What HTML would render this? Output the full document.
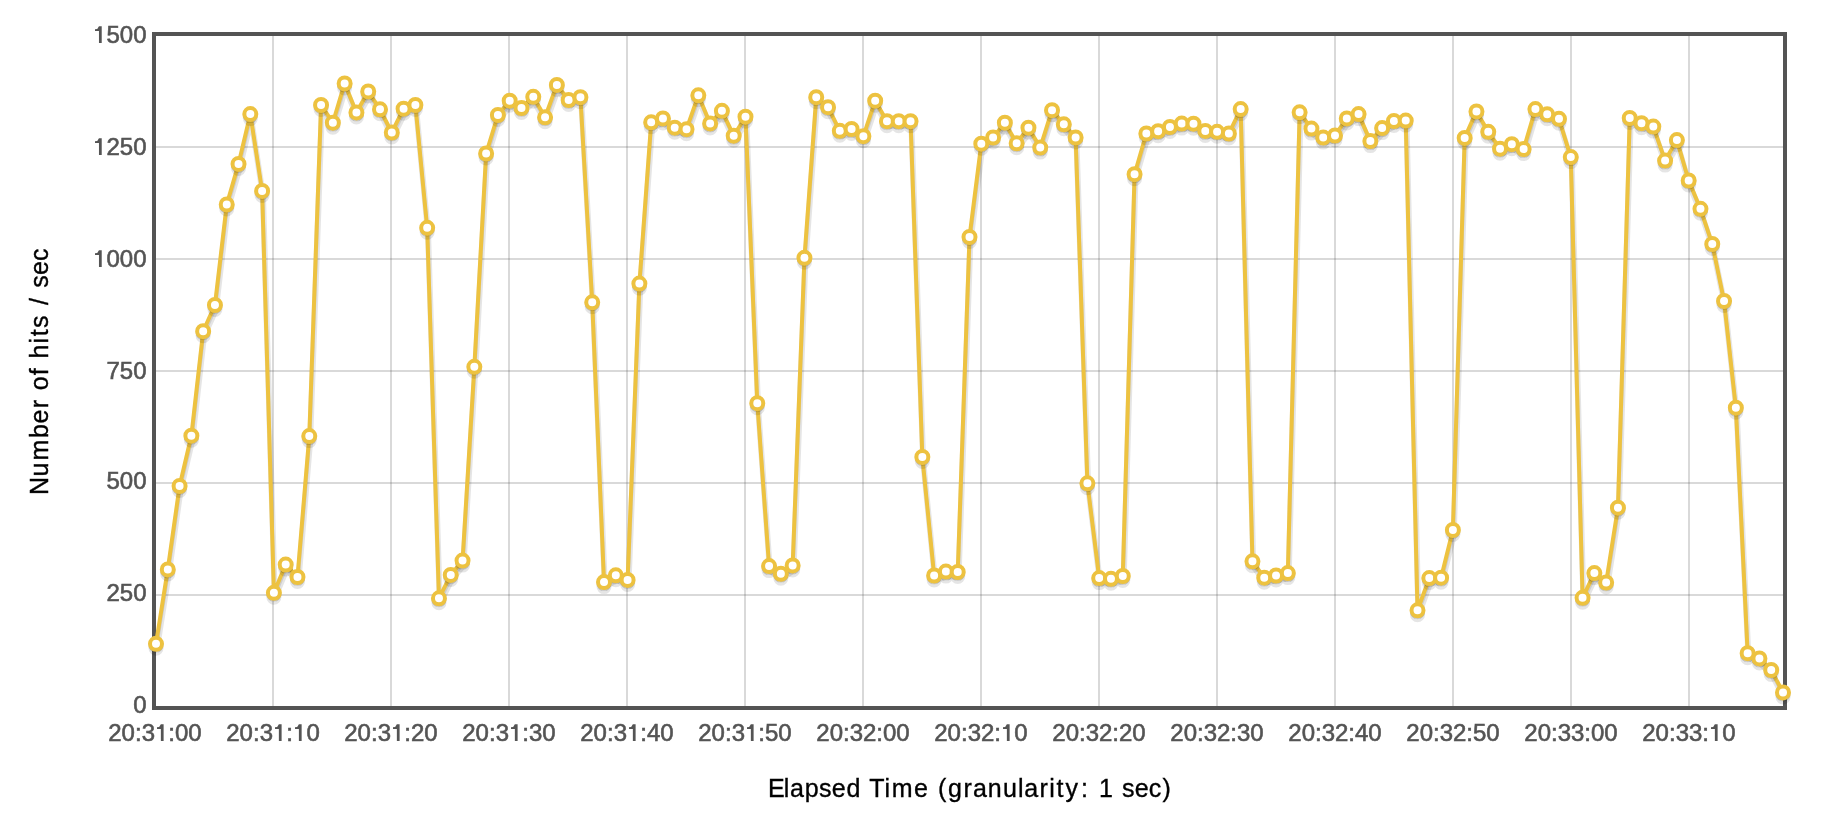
<!DOCTYPE html>
<html><head><meta charset="utf-8"><style>
html,body{margin:0;padding:0;background:#fff;width:1822px;height:832px;overflow:hidden;position:relative}
.xl{will-change:transform;position:absolute;top:719px;width:120px;text-align:center;font:24px/28px "Liberation Sans",sans-serif;color:#545454;-webkit-text-stroke:0.6px #545454}
.yl{will-change:transform;position:absolute;left:40px;width:106.5px;text-align:right;font:24px/28px "Liberation Sans",sans-serif;color:#545454;-webkit-text-stroke:0.6px #545454}
.one{position:relative;color:transparent;-webkit-text-stroke-color:transparent}
.one::after{content:"";position:absolute;left:0.07em;bottom:0.2119em;width:0.296em;height:0.698em;background:#545454;clip-path:polygon(0.175em 0,0.29em 0,0.29em 0.698em,0.175em 0.698em,0.175em 0.204em,0 0.204em,0 0.126em,0.104em 0.119em)}
.ax{will-change:transform;position:absolute;font-family:"Liberation Sans",sans-serif;color:#000;-webkit-text-stroke:0.35px #000;white-space:nowrap}
</style></head><body>
<svg width="1822" height="832" viewBox="0 0 1822 832" style="position:absolute;left:0;top:0"><path d="M273,36 V706 M391,36 V706 M509,36 V706 M627,36 V706 M745,36 V706 M863,36 V706 M981,36 V706 M1099,36 V706 M1217,36 V706 M1335,36 V706 M1453,36 V706 M1571,36 V706 M1689,36 V706" stroke="rgba(84,84,84,0.22)" stroke-width="2" fill="none"/><path d="M156,595 H1783 M156,483 H1783 M156,371 H1783 M156,259 H1783 M156,147 H1783" stroke="rgba(84,84,84,0.22)" stroke-width="2" fill="none"/><rect x="154" y="34" width="1631" height="674" stroke="#545454" stroke-width="4" fill="none"/><path d="M156.87,648.72 L168.66,574.32 L180.45,490.92 L192.24,440.62 L204.03,336.12 L215.82,309.92 L227.61,209.42 L239.40,168.82 L251.19,119.02 L262.98,195.82 L274.77,597.72 L286.56,569.52 L298.35,581.92 L310.14,441.02 L321.93,109.92 L333.72,127.62 L345.51,88.32 L357.30,117.32 L369.09,96.32 L380.88,114.22 L392.67,137.42 L404.46,113.62 L416.25,109.92 L428.03,232.72 L439.82,603.22 L451.61,579.82 L463.40,565.52 L475.19,371.72 L486.98,158.42 L498.77,119.92 L510.56,105.62 L522.35,112.92 L534.14,101.72 L545.93,122.22 L557.72,89.82 L569.51,104.92 L581.30,102.12 L593.09,307.22 L604.88,587.02 L616.67,580.22 L628.46,584.82 L640.25,288.52 L652.04,127.22 L663.83,123.32 L675.62,132.62 L687.41,134.12 L699.20,100.22 L710.99,128.32 L722.78,115.72 L734.57,140.62 L746.36,121.62 L758.15,408.12 L769.94,571.02 L781.73,578.72 L793.52,570.32 L805.31,262.72 L817.10,102.12 L828.89,112.12 L840.68,135.72 L852.47,133.92 L864.26,141.12 L876.05,105.62 L887.84,126.12 L899.63,126.12 L911.42,126.12 L923.21,461.92 L935.00,580.42 L946.79,576.52 L958.58,576.92 L970.37,241.92 L982.16,148.62 L993.95,142.42 L1005.74,127.62 L1017.53,148.22 L1029.32,132.62 L1041.11,152.52 L1052.90,115.12 L1064.69,129.22 L1076.48,142.42 L1088.27,488.22 L1100.06,583.02 L1111.85,583.72 L1123.64,580.92 L1135.43,179.12 L1147.22,138.42 L1159.01,136.12 L1170.80,131.92 L1182.59,128.52 L1194.38,128.62 L1206.17,135.82 L1217.96,136.72 L1229.75,138.42 L1241.53,114.02 L1253.32,566.22 L1265.11,582.62 L1276.90,580.42 L1288.69,578.02 L1300.48,117.22 L1312.27,133.52 L1324.06,142.52 L1335.85,140.42 L1347.64,123.32 L1359.43,119.02 L1371.22,146.02 L1383.01,133.02 L1394.80,125.92 L1406.59,125.52 L1418.38,615.22 L1430.17,583.02 L1441.96,582.62 L1453.75,534.92 L1465.54,142.82 L1477.33,116.32 L1489.12,136.72 L1500.91,153.62 L1512.70,149.12 L1524.49,154.02 L1536.28,114.02 L1548.07,119.22 L1559.86,123.72 L1571.65,162.02 L1583.44,602.72 L1595.23,578.02 L1607.02,587.42 L1618.81,512.62 L1630.60,122.92 L1642.39,128.12 L1654.18,131.52 L1665.97,165.52 L1677.76,145.02 L1689.55,185.42 L1701.34,213.72 L1713.13,248.92 L1724.92,305.92 L1736.71,412.62 L1748.50,658.12 L1760.29,663.32 L1772.08,674.92 L1783.87,697.32" stroke="rgba(0,0,0,0.1)" stroke-width="6" fill="none" stroke-linejoin="round"/><path d="M156.61,647.25 L168.40,572.85 L180.19,489.45 L191.98,439.15 L203.77,334.65 L215.56,308.45 L227.35,207.95 L239.14,167.35 L250.93,117.55 L262.72,194.35 L274.51,596.25 L286.30,568.05 L298.09,580.45 L309.88,439.55 L321.67,108.45 L333.46,126.15 L345.25,86.85 L357.04,115.85 L368.83,94.85 L380.62,112.75 L392.40,135.95 L404.19,112.15 L415.98,108.45 L427.77,231.25 L439.56,601.75 L451.35,578.35 L463.14,564.05 L474.93,370.25 L486.72,156.95 L498.51,118.45 L510.30,104.15 L522.09,111.45 L533.88,100.25 L545.67,120.75 L557.46,88.35 L569.25,103.45 L581.04,100.65 L592.83,305.75 L604.62,585.55 L616.41,578.75 L628.20,583.35 L639.99,287.05 L651.78,125.75 L663.57,121.85 L675.36,131.15 L687.15,132.65 L698.94,98.75 L710.73,126.85 L722.52,114.25 L734.31,139.15 L746.10,120.15 L757.89,406.65 L769.68,569.55 L781.47,577.25 L793.26,568.85 L805.05,261.25 L816.84,100.65 L828.63,110.65 L840.42,134.25 L852.21,132.45 L864.00,139.65 L875.79,104.15 L887.58,124.65 L899.37,124.65 L911.16,124.65 L922.95,460.45 L934.74,578.95 L946.53,575.05 L958.32,575.45 L970.11,240.45 L981.90,147.15 L993.69,140.95 L1005.48,126.15 L1017.27,146.75 L1029.06,131.15 L1040.85,151.05 L1052.64,113.65 L1064.43,127.75 L1076.22,140.95 L1088.01,486.75 L1099.80,581.55 L1111.59,582.25 L1123.38,579.45 L1135.17,177.65 L1146.96,136.95 L1158.75,134.65 L1170.54,130.45 L1182.33,127.05 L1194.12,127.15 L1205.90,134.35 L1217.69,135.25 L1229.48,136.95 L1241.27,112.55 L1253.06,564.75 L1264.85,581.15 L1276.64,578.95 L1288.43,576.55 L1300.22,115.75 L1312.01,132.05 L1323.80,141.05 L1335.59,138.95 L1347.38,121.85 L1359.17,117.55 L1370.96,144.55 L1382.75,131.55 L1394.54,124.45 L1406.33,124.05 L1418.12,613.75 L1429.91,581.55 L1441.70,581.15 L1453.49,533.45 L1465.28,141.35 L1477.07,114.85 L1488.86,135.25 L1500.65,152.15 L1512.44,147.65 L1524.23,152.55 L1536.02,112.55 L1547.81,117.75 L1559.60,122.25 L1571.39,160.55 L1583.18,601.25 L1594.97,576.55 L1606.76,585.95 L1618.55,511.15 L1630.34,121.45 L1642.13,126.65 L1653.92,130.05 L1665.71,164.05 L1677.50,143.55 L1689.29,183.95 L1701.08,212.25 L1712.87,247.45 L1724.66,304.45 L1736.45,411.15 L1748.24,656.65 L1760.03,661.85 L1771.82,673.45 L1783.61,695.85" stroke="rgba(0,0,0,0.1)" stroke-width="3.0" fill="none" stroke-linejoin="round"/><path d="M156.00,643.80 L167.79,569.40 L179.58,486.00 L191.37,435.70 L203.16,331.20 L214.95,305.00 L226.74,204.50 L238.53,163.90 L250.32,114.10 L262.11,190.90 L273.90,592.80 L285.69,564.60 L297.48,577.00 L309.27,436.10 L321.06,105.00 L332.85,122.70 L344.64,83.40 L356.43,112.40 L368.22,91.40 L380.01,109.30 L391.80,132.50 L403.59,108.70 L415.38,105.00 L427.17,227.80 L438.96,598.30 L450.75,574.90 L462.54,560.60 L474.33,366.80 L486.12,153.50 L497.91,115.00 L509.70,100.70 L521.49,108.00 L533.28,96.80 L545.07,117.30 L556.86,84.90 L568.64,100.00 L580.43,97.20 L592.22,302.30 L604.01,582.10 L615.80,575.30 L627.59,579.90 L639.38,283.60 L651.17,122.30 L662.96,118.40 L674.75,127.70 L686.54,129.20 L698.33,95.30 L710.12,123.40 L721.91,110.80 L733.70,135.70 L745.49,116.70 L757.28,403.20 L769.07,566.10 L780.86,573.80 L792.65,565.40 L804.44,257.80 L816.23,97.20 L828.02,107.20 L839.81,130.80 L851.60,129.00 L863.39,136.20 L875.18,100.70 L886.97,121.20 L898.76,121.20 L910.55,121.20 L922.34,457.00 L934.13,575.50 L945.92,571.60 L957.71,572.00 L969.50,237.00 L981.29,143.70 L993.08,137.50 L1004.87,122.70 L1016.66,143.30 L1028.45,127.70 L1040.24,147.60 L1052.03,110.20 L1063.82,124.30 L1075.61,137.50 L1087.40,483.30 L1099.19,578.10 L1110.98,578.80 L1122.77,576.00 L1134.56,174.20 L1146.35,133.50 L1158.14,131.20 L1169.93,127.00 L1181.72,123.60 L1193.51,123.70 L1205.30,130.90 L1217.09,131.80 L1228.88,133.50 L1240.67,109.10 L1252.46,561.30 L1264.25,577.70 L1276.04,575.50 L1287.83,573.10 L1299.62,112.30 L1311.41,128.60 L1323.20,137.60 L1334.99,135.50 L1346.78,118.40 L1358.57,114.10 L1370.36,141.10 L1382.14,128.10 L1393.93,121.00 L1405.72,120.60 L1417.51,610.30 L1429.30,578.10 L1441.09,577.70 L1452.88,530.00 L1464.67,137.90 L1476.46,111.40 L1488.25,131.80 L1500.04,148.70 L1511.83,144.20 L1523.62,149.10 L1535.41,109.10 L1547.20,114.30 L1558.99,118.80 L1570.78,157.10 L1582.57,597.80 L1594.36,573.10 L1606.15,582.50 L1617.94,507.70 L1629.73,118.00 L1641.52,123.20 L1653.31,126.60 L1665.10,160.60 L1676.89,140.10 L1688.68,180.50 L1700.47,208.80 L1712.26,244.00 L1724.05,301.00 L1735.84,407.70 L1747.63,653.20 L1759.42,658.40 L1771.21,670.00 L1783.00,692.40" stroke="#edc240" stroke-width="4" fill="none" stroke-linejoin="round"/><path d="M162.00,648.30 A6,6 0 0 1 150.00,648.30 Z M173.79,573.90 A6,6 0 0 1 161.79,573.90 Z M185.58,490.50 A6,6 0 0 1 173.58,490.50 Z M197.37,440.20 A6,6 0 0 1 185.37,440.20 Z M209.16,335.70 A6,6 0 0 1 197.16,335.70 Z M220.95,309.50 A6,6 0 0 1 208.95,309.50 Z M232.74,209.00 A6,6 0 0 1 220.74,209.00 Z M244.53,168.40 A6,6 0 0 1 232.53,168.40 Z M256.32,118.60 A6,6 0 0 1 244.32,118.60 Z M268.11,195.40 A6,6 0 0 1 256.11,195.40 Z M279.90,597.30 A6,6 0 0 1 267.90,597.30 Z M291.69,569.10 A6,6 0 0 1 279.69,569.10 Z M303.48,581.50 A6,6 0 0 1 291.48,581.50 Z M315.27,440.60 A6,6 0 0 1 303.27,440.60 Z M327.06,109.50 A6,6 0 0 1 315.06,109.50 Z M338.85,127.20 A6,6 0 0 1 326.85,127.20 Z M350.64,87.90 A6,6 0 0 1 338.64,87.90 Z M362.43,116.90 A6,6 0 0 1 350.43,116.90 Z M374.22,95.90 A6,6 0 0 1 362.22,95.90 Z M386.01,113.80 A6,6 0 0 1 374.01,113.80 Z M397.80,137.00 A6,6 0 0 1 385.80,137.00 Z M409.59,113.20 A6,6 0 0 1 397.59,113.20 Z M421.38,109.50 A6,6 0 0 1 409.38,109.50 Z M433.17,232.30 A6,6 0 0 1 421.17,232.30 Z M444.96,602.80 A6,6 0 0 1 432.96,602.80 Z M456.75,579.40 A6,6 0 0 1 444.75,579.40 Z M468.54,565.10 A6,6 0 0 1 456.54,565.10 Z M480.33,371.30 A6,6 0 0 1 468.33,371.30 Z M492.12,158.00 A6,6 0 0 1 480.12,158.00 Z M503.91,119.50 A6,6 0 0 1 491.91,119.50 Z M515.70,105.20 A6,6 0 0 1 503.70,105.20 Z M527.49,112.50 A6,6 0 0 1 515.49,112.50 Z M539.28,101.30 A6,6 0 0 1 527.28,101.30 Z M551.07,121.80 A6,6 0 0 1 539.07,121.80 Z M562.86,89.40 A6,6 0 0 1 550.86,89.40 Z M574.64,104.50 A6,6 0 0 1 562.64,104.50 Z M586.43,101.70 A6,6 0 0 1 574.43,101.70 Z M598.22,306.80 A6,6 0 0 1 586.22,306.80 Z M610.01,586.60 A6,6 0 0 1 598.01,586.60 Z M621.80,579.80 A6,6 0 0 1 609.80,579.80 Z M633.59,584.40 A6,6 0 0 1 621.59,584.40 Z M645.38,288.10 A6,6 0 0 1 633.38,288.10 Z M657.17,126.80 A6,6 0 0 1 645.17,126.80 Z M668.96,122.90 A6,6 0 0 1 656.96,122.90 Z M680.75,132.20 A6,6 0 0 1 668.75,132.20 Z M692.54,133.70 A6,6 0 0 1 680.54,133.70 Z M704.33,99.80 A6,6 0 0 1 692.33,99.80 Z M716.12,127.90 A6,6 0 0 1 704.12,127.90 Z M727.91,115.30 A6,6 0 0 1 715.91,115.30 Z M739.70,140.20 A6,6 0 0 1 727.70,140.20 Z M751.49,121.20 A6,6 0 0 1 739.49,121.20 Z M763.28,407.70 A6,6 0 0 1 751.28,407.70 Z M775.07,570.60 A6,6 0 0 1 763.07,570.60 Z M786.86,578.30 A6,6 0 0 1 774.86,578.30 Z M798.65,569.90 A6,6 0 0 1 786.65,569.90 Z M810.44,262.30 A6,6 0 0 1 798.44,262.30 Z M822.23,101.70 A6,6 0 0 1 810.23,101.70 Z M834.02,111.70 A6,6 0 0 1 822.02,111.70 Z M845.81,135.30 A6,6 0 0 1 833.81,135.30 Z M857.60,133.50 A6,6 0 0 1 845.60,133.50 Z M869.39,140.70 A6,6 0 0 1 857.39,140.70 Z M881.18,105.20 A6,6 0 0 1 869.18,105.20 Z M892.97,125.70 A6,6 0 0 1 880.97,125.70 Z M904.76,125.70 A6,6 0 0 1 892.76,125.70 Z M916.55,125.70 A6,6 0 0 1 904.55,125.70 Z M928.34,461.50 A6,6 0 0 1 916.34,461.50 Z M940.13,580.00 A6,6 0 0 1 928.13,580.00 Z M951.92,576.10 A6,6 0 0 1 939.92,576.10 Z M963.71,576.50 A6,6 0 0 1 951.71,576.50 Z M975.50,241.50 A6,6 0 0 1 963.50,241.50 Z M987.29,148.20 A6,6 0 0 1 975.29,148.20 Z M999.08,142.00 A6,6 0 0 1 987.08,142.00 Z M1010.87,127.20 A6,6 0 0 1 998.87,127.20 Z M1022.66,147.80 A6,6 0 0 1 1010.66,147.80 Z M1034.45,132.20 A6,6 0 0 1 1022.45,132.20 Z M1046.24,152.10 A6,6 0 0 1 1034.24,152.10 Z M1058.03,114.70 A6,6 0 0 1 1046.03,114.70 Z M1069.82,128.80 A6,6 0 0 1 1057.82,128.80 Z M1081.61,142.00 A6,6 0 0 1 1069.61,142.00 Z M1093.40,487.80 A6,6 0 0 1 1081.40,487.80 Z M1105.19,582.60 A6,6 0 0 1 1093.19,582.60 Z M1116.98,583.30 A6,6 0 0 1 1104.98,583.30 Z M1128.77,580.50 A6,6 0 0 1 1116.77,580.50 Z M1140.56,178.70 A6,6 0 0 1 1128.56,178.70 Z M1152.35,138.00 A6,6 0 0 1 1140.35,138.00 Z M1164.14,135.70 A6,6 0 0 1 1152.14,135.70 Z M1175.93,131.50 A6,6 0 0 1 1163.93,131.50 Z M1187.72,128.10 A6,6 0 0 1 1175.72,128.10 Z M1199.51,128.20 A6,6 0 0 1 1187.51,128.20 Z M1211.30,135.40 A6,6 0 0 1 1199.30,135.40 Z M1223.09,136.30 A6,6 0 0 1 1211.09,136.30 Z M1234.88,138.00 A6,6 0 0 1 1222.88,138.00 Z M1246.67,113.60 A6,6 0 0 1 1234.67,113.60 Z M1258.46,565.80 A6,6 0 0 1 1246.46,565.80 Z M1270.25,582.20 A6,6 0 0 1 1258.25,582.20 Z M1282.04,580.00 A6,6 0 0 1 1270.04,580.00 Z M1293.83,577.60 A6,6 0 0 1 1281.83,577.60 Z M1305.62,116.80 A6,6 0 0 1 1293.62,116.80 Z M1317.41,133.10 A6,6 0 0 1 1305.41,133.10 Z M1329.20,142.10 A6,6 0 0 1 1317.20,142.10 Z M1340.99,140.00 A6,6 0 0 1 1328.99,140.00 Z M1352.78,122.90 A6,6 0 0 1 1340.78,122.90 Z M1364.57,118.60 A6,6 0 0 1 1352.57,118.60 Z M1376.36,145.60 A6,6 0 0 1 1364.36,145.60 Z M1388.14,132.60 A6,6 0 0 1 1376.14,132.60 Z M1399.93,125.50 A6,6 0 0 1 1387.93,125.50 Z M1411.72,125.10 A6,6 0 0 1 1399.72,125.10 Z M1423.51,614.80 A6,6 0 0 1 1411.51,614.80 Z M1435.30,582.60 A6,6 0 0 1 1423.30,582.60 Z M1447.09,582.20 A6,6 0 0 1 1435.09,582.20 Z M1458.88,534.50 A6,6 0 0 1 1446.88,534.50 Z M1470.67,142.40 A6,6 0 0 1 1458.67,142.40 Z M1482.46,115.90 A6,6 0 0 1 1470.46,115.90 Z M1494.25,136.30 A6,6 0 0 1 1482.25,136.30 Z M1506.04,153.20 A6,6 0 0 1 1494.04,153.20 Z M1517.83,148.70 A6,6 0 0 1 1505.83,148.70 Z M1529.62,153.60 A6,6 0 0 1 1517.62,153.60 Z M1541.41,113.60 A6,6 0 0 1 1529.41,113.60 Z M1553.20,118.80 A6,6 0 0 1 1541.20,118.80 Z M1564.99,123.30 A6,6 0 0 1 1552.99,123.30 Z M1576.78,161.60 A6,6 0 0 1 1564.78,161.60 Z M1588.57,602.30 A6,6 0 0 1 1576.57,602.30 Z M1600.36,577.60 A6,6 0 0 1 1588.36,577.60 Z M1612.15,587.00 A6,6 0 0 1 1600.15,587.00 Z M1623.94,512.20 A6,6 0 0 1 1611.94,512.20 Z M1635.73,122.50 A6,6 0 0 1 1623.73,122.50 Z M1647.52,127.70 A6,6 0 0 1 1635.52,127.70 Z M1659.31,131.10 A6,6 0 0 1 1647.31,131.10 Z M1671.10,165.10 A6,6 0 0 1 1659.10,165.10 Z M1682.89,144.60 A6,6 0 0 1 1670.89,144.60 Z M1694.68,185.00 A6,6 0 0 1 1682.68,185.00 Z M1706.47,213.30 A6,6 0 0 1 1694.47,213.30 Z M1718.26,248.50 A6,6 0 0 1 1706.26,248.50 Z M1730.05,305.50 A6,6 0 0 1 1718.05,305.50 Z M1741.84,412.20 A6,6 0 0 1 1729.84,412.20 Z M1753.63,657.70 A6,6 0 0 1 1741.63,657.70 Z M1765.42,662.90 A6,6 0 0 1 1753.42,662.90 Z M1777.21,674.50 A6,6 0 0 1 1765.21,674.50 Z M1789.00,696.90 A6,6 0 0 1 1777.00,696.90 Z" stroke="rgba(0,0,0,0.1)" stroke-width="3.0" fill="none"/><path d="M162.00,645.30 A6,6 0 0 1 150.00,645.30 Z M173.79,570.90 A6,6 0 0 1 161.79,570.90 Z M185.58,487.50 A6,6 0 0 1 173.58,487.50 Z M197.37,437.20 A6,6 0 0 1 185.37,437.20 Z M209.16,332.70 A6,6 0 0 1 197.16,332.70 Z M220.95,306.50 A6,6 0 0 1 208.95,306.50 Z M232.74,206.00 A6,6 0 0 1 220.74,206.00 Z M244.53,165.40 A6,6 0 0 1 232.53,165.40 Z M256.32,115.60 A6,6 0 0 1 244.32,115.60 Z M268.11,192.40 A6,6 0 0 1 256.11,192.40 Z M279.90,594.30 A6,6 0 0 1 267.90,594.30 Z M291.69,566.10 A6,6 0 0 1 279.69,566.10 Z M303.48,578.50 A6,6 0 0 1 291.48,578.50 Z M315.27,437.60 A6,6 0 0 1 303.27,437.60 Z M327.06,106.50 A6,6 0 0 1 315.06,106.50 Z M338.85,124.20 A6,6 0 0 1 326.85,124.20 Z M350.64,84.90 A6,6 0 0 1 338.64,84.90 Z M362.43,113.90 A6,6 0 0 1 350.43,113.90 Z M374.22,92.90 A6,6 0 0 1 362.22,92.90 Z M386.01,110.80 A6,6 0 0 1 374.01,110.80 Z M397.80,134.00 A6,6 0 0 1 385.80,134.00 Z M409.59,110.20 A6,6 0 0 1 397.59,110.20 Z M421.38,106.50 A6,6 0 0 1 409.38,106.50 Z M433.17,229.30 A6,6 0 0 1 421.17,229.30 Z M444.96,599.80 A6,6 0 0 1 432.96,599.80 Z M456.75,576.40 A6,6 0 0 1 444.75,576.40 Z M468.54,562.10 A6,6 0 0 1 456.54,562.10 Z M480.33,368.30 A6,6 0 0 1 468.33,368.30 Z M492.12,155.00 A6,6 0 0 1 480.12,155.00 Z M503.91,116.50 A6,6 0 0 1 491.91,116.50 Z M515.70,102.20 A6,6 0 0 1 503.70,102.20 Z M527.49,109.50 A6,6 0 0 1 515.49,109.50 Z M539.28,98.30 A6,6 0 0 1 527.28,98.30 Z M551.07,118.80 A6,6 0 0 1 539.07,118.80 Z M562.86,86.40 A6,6 0 0 1 550.86,86.40 Z M574.64,101.50 A6,6 0 0 1 562.64,101.50 Z M586.43,98.70 A6,6 0 0 1 574.43,98.70 Z M598.22,303.80 A6,6 0 0 1 586.22,303.80 Z M610.01,583.60 A6,6 0 0 1 598.01,583.60 Z M621.80,576.80 A6,6 0 0 1 609.80,576.80 Z M633.59,581.40 A6,6 0 0 1 621.59,581.40 Z M645.38,285.10 A6,6 0 0 1 633.38,285.10 Z M657.17,123.80 A6,6 0 0 1 645.17,123.80 Z M668.96,119.90 A6,6 0 0 1 656.96,119.90 Z M680.75,129.20 A6,6 0 0 1 668.75,129.20 Z M692.54,130.70 A6,6 0 0 1 680.54,130.70 Z M704.33,96.80 A6,6 0 0 1 692.33,96.80 Z M716.12,124.90 A6,6 0 0 1 704.12,124.90 Z M727.91,112.30 A6,6 0 0 1 715.91,112.30 Z M739.70,137.20 A6,6 0 0 1 727.70,137.20 Z M751.49,118.20 A6,6 0 0 1 739.49,118.20 Z M763.28,404.70 A6,6 0 0 1 751.28,404.70 Z M775.07,567.60 A6,6 0 0 1 763.07,567.60 Z M786.86,575.30 A6,6 0 0 1 774.86,575.30 Z M798.65,566.90 A6,6 0 0 1 786.65,566.90 Z M810.44,259.30 A6,6 0 0 1 798.44,259.30 Z M822.23,98.70 A6,6 0 0 1 810.23,98.70 Z M834.02,108.70 A6,6 0 0 1 822.02,108.70 Z M845.81,132.30 A6,6 0 0 1 833.81,132.30 Z M857.60,130.50 A6,6 0 0 1 845.60,130.50 Z M869.39,137.70 A6,6 0 0 1 857.39,137.70 Z M881.18,102.20 A6,6 0 0 1 869.18,102.20 Z M892.97,122.70 A6,6 0 0 1 880.97,122.70 Z M904.76,122.70 A6,6 0 0 1 892.76,122.70 Z M916.55,122.70 A6,6 0 0 1 904.55,122.70 Z M928.34,458.50 A6,6 0 0 1 916.34,458.50 Z M940.13,577.00 A6,6 0 0 1 928.13,577.00 Z M951.92,573.10 A6,6 0 0 1 939.92,573.10 Z M963.71,573.50 A6,6 0 0 1 951.71,573.50 Z M975.50,238.50 A6,6 0 0 1 963.50,238.50 Z M987.29,145.20 A6,6 0 0 1 975.29,145.20 Z M999.08,139.00 A6,6 0 0 1 987.08,139.00 Z M1010.87,124.20 A6,6 0 0 1 998.87,124.20 Z M1022.66,144.80 A6,6 0 0 1 1010.66,144.80 Z M1034.45,129.20 A6,6 0 0 1 1022.45,129.20 Z M1046.24,149.10 A6,6 0 0 1 1034.24,149.10 Z M1058.03,111.70 A6,6 0 0 1 1046.03,111.70 Z M1069.82,125.80 A6,6 0 0 1 1057.82,125.80 Z M1081.61,139.00 A6,6 0 0 1 1069.61,139.00 Z M1093.40,484.80 A6,6 0 0 1 1081.40,484.80 Z M1105.19,579.60 A6,6 0 0 1 1093.19,579.60 Z M1116.98,580.30 A6,6 0 0 1 1104.98,580.30 Z M1128.77,577.50 A6,6 0 0 1 1116.77,577.50 Z M1140.56,175.70 A6,6 0 0 1 1128.56,175.70 Z M1152.35,135.00 A6,6 0 0 1 1140.35,135.00 Z M1164.14,132.70 A6,6 0 0 1 1152.14,132.70 Z M1175.93,128.50 A6,6 0 0 1 1163.93,128.50 Z M1187.72,125.10 A6,6 0 0 1 1175.72,125.10 Z M1199.51,125.20 A6,6 0 0 1 1187.51,125.20 Z M1211.30,132.40 A6,6 0 0 1 1199.30,132.40 Z M1223.09,133.30 A6,6 0 0 1 1211.09,133.30 Z M1234.88,135.00 A6,6 0 0 1 1222.88,135.00 Z M1246.67,110.60 A6,6 0 0 1 1234.67,110.60 Z M1258.46,562.80 A6,6 0 0 1 1246.46,562.80 Z M1270.25,579.20 A6,6 0 0 1 1258.25,579.20 Z M1282.04,577.00 A6,6 0 0 1 1270.04,577.00 Z M1293.83,574.60 A6,6 0 0 1 1281.83,574.60 Z M1305.62,113.80 A6,6 0 0 1 1293.62,113.80 Z M1317.41,130.10 A6,6 0 0 1 1305.41,130.10 Z M1329.20,139.10 A6,6 0 0 1 1317.20,139.10 Z M1340.99,137.00 A6,6 0 0 1 1328.99,137.00 Z M1352.78,119.90 A6,6 0 0 1 1340.78,119.90 Z M1364.57,115.60 A6,6 0 0 1 1352.57,115.60 Z M1376.36,142.60 A6,6 0 0 1 1364.36,142.60 Z M1388.14,129.60 A6,6 0 0 1 1376.14,129.60 Z M1399.93,122.50 A6,6 0 0 1 1387.93,122.50 Z M1411.72,122.10 A6,6 0 0 1 1399.72,122.10 Z M1423.51,611.80 A6,6 0 0 1 1411.51,611.80 Z M1435.30,579.60 A6,6 0 0 1 1423.30,579.60 Z M1447.09,579.20 A6,6 0 0 1 1435.09,579.20 Z M1458.88,531.50 A6,6 0 0 1 1446.88,531.50 Z M1470.67,139.40 A6,6 0 0 1 1458.67,139.40 Z M1482.46,112.90 A6,6 0 0 1 1470.46,112.90 Z M1494.25,133.30 A6,6 0 0 1 1482.25,133.30 Z M1506.04,150.20 A6,6 0 0 1 1494.04,150.20 Z M1517.83,145.70 A6,6 0 0 1 1505.83,145.70 Z M1529.62,150.60 A6,6 0 0 1 1517.62,150.60 Z M1541.41,110.60 A6,6 0 0 1 1529.41,110.60 Z M1553.20,115.80 A6,6 0 0 1 1541.20,115.80 Z M1564.99,120.30 A6,6 0 0 1 1552.99,120.30 Z M1576.78,158.60 A6,6 0 0 1 1564.78,158.60 Z M1588.57,599.30 A6,6 0 0 1 1576.57,599.30 Z M1600.36,574.60 A6,6 0 0 1 1588.36,574.60 Z M1612.15,584.00 A6,6 0 0 1 1600.15,584.00 Z M1623.94,509.20 A6,6 0 0 1 1611.94,509.20 Z M1635.73,119.50 A6,6 0 0 1 1623.73,119.50 Z M1647.52,124.70 A6,6 0 0 1 1635.52,124.70 Z M1659.31,128.10 A6,6 0 0 1 1647.31,128.10 Z M1671.10,162.10 A6,6 0 0 1 1659.10,162.10 Z M1682.89,141.60 A6,6 0 0 1 1670.89,141.60 Z M1694.68,182.00 A6,6 0 0 1 1682.68,182.00 Z M1706.47,210.30 A6,6 0 0 1 1694.47,210.30 Z M1718.26,245.50 A6,6 0 0 1 1706.26,245.50 Z M1730.05,302.50 A6,6 0 0 1 1718.05,302.50 Z M1741.84,409.20 A6,6 0 0 1 1729.84,409.20 Z M1753.63,654.70 A6,6 0 0 1 1741.63,654.70 Z M1765.42,659.90 A6,6 0 0 1 1753.42,659.90 Z M1777.21,671.50 A6,6 0 0 1 1765.21,671.50 Z M1789.00,693.90 A6,6 0 0 1 1777.00,693.90 Z" stroke="rgba(0,0,0,0.2)" stroke-width="3.0" fill="none"/><g fill="#fff" stroke="#edc240" stroke-width="4"><circle cx="156.00" cy="643.80" r="6"/><circle cx="167.79" cy="569.40" r="6"/><circle cx="179.58" cy="486.00" r="6"/><circle cx="191.37" cy="435.70" r="6"/><circle cx="203.16" cy="331.20" r="6"/><circle cx="214.95" cy="305.00" r="6"/><circle cx="226.74" cy="204.50" r="6"/><circle cx="238.53" cy="163.90" r="6"/><circle cx="250.32" cy="114.10" r="6"/><circle cx="262.11" cy="190.90" r="6"/><circle cx="273.90" cy="592.80" r="6"/><circle cx="285.69" cy="564.60" r="6"/><circle cx="297.48" cy="577.00" r="6"/><circle cx="309.27" cy="436.10" r="6"/><circle cx="321.06" cy="105.00" r="6"/><circle cx="332.85" cy="122.70" r="6"/><circle cx="344.64" cy="83.40" r="6"/><circle cx="356.43" cy="112.40" r="6"/><circle cx="368.22" cy="91.40" r="6"/><circle cx="380.01" cy="109.30" r="6"/><circle cx="391.80" cy="132.50" r="6"/><circle cx="403.59" cy="108.70" r="6"/><circle cx="415.38" cy="105.00" r="6"/><circle cx="427.17" cy="227.80" r="6"/><circle cx="438.96" cy="598.30" r="6"/><circle cx="450.75" cy="574.90" r="6"/><circle cx="462.54" cy="560.60" r="6"/><circle cx="474.33" cy="366.80" r="6"/><circle cx="486.12" cy="153.50" r="6"/><circle cx="497.91" cy="115.00" r="6"/><circle cx="509.70" cy="100.70" r="6"/><circle cx="521.49" cy="108.00" r="6"/><circle cx="533.28" cy="96.80" r="6"/><circle cx="545.07" cy="117.30" r="6"/><circle cx="556.86" cy="84.90" r="6"/><circle cx="568.64" cy="100.00" r="6"/><circle cx="580.43" cy="97.20" r="6"/><circle cx="592.22" cy="302.30" r="6"/><circle cx="604.01" cy="582.10" r="6"/><circle cx="615.80" cy="575.30" r="6"/><circle cx="627.59" cy="579.90" r="6"/><circle cx="639.38" cy="283.60" r="6"/><circle cx="651.17" cy="122.30" r="6"/><circle cx="662.96" cy="118.40" r="6"/><circle cx="674.75" cy="127.70" r="6"/><circle cx="686.54" cy="129.20" r="6"/><circle cx="698.33" cy="95.30" r="6"/><circle cx="710.12" cy="123.40" r="6"/><circle cx="721.91" cy="110.80" r="6"/><circle cx="733.70" cy="135.70" r="6"/><circle cx="745.49" cy="116.70" r="6"/><circle cx="757.28" cy="403.20" r="6"/><circle cx="769.07" cy="566.10" r="6"/><circle cx="780.86" cy="573.80" r="6"/><circle cx="792.65" cy="565.40" r="6"/><circle cx="804.44" cy="257.80" r="6"/><circle cx="816.23" cy="97.20" r="6"/><circle cx="828.02" cy="107.20" r="6"/><circle cx="839.81" cy="130.80" r="6"/><circle cx="851.60" cy="129.00" r="6"/><circle cx="863.39" cy="136.20" r="6"/><circle cx="875.18" cy="100.70" r="6"/><circle cx="886.97" cy="121.20" r="6"/><circle cx="898.76" cy="121.20" r="6"/><circle cx="910.55" cy="121.20" r="6"/><circle cx="922.34" cy="457.00" r="6"/><circle cx="934.13" cy="575.50" r="6"/><circle cx="945.92" cy="571.60" r="6"/><circle cx="957.71" cy="572.00" r="6"/><circle cx="969.50" cy="237.00" r="6"/><circle cx="981.29" cy="143.70" r="6"/><circle cx="993.08" cy="137.50" r="6"/><circle cx="1004.87" cy="122.70" r="6"/><circle cx="1016.66" cy="143.30" r="6"/><circle cx="1028.45" cy="127.70" r="6"/><circle cx="1040.24" cy="147.60" r="6"/><circle cx="1052.03" cy="110.20" r="6"/><circle cx="1063.82" cy="124.30" r="6"/><circle cx="1075.61" cy="137.50" r="6"/><circle cx="1087.40" cy="483.30" r="6"/><circle cx="1099.19" cy="578.10" r="6"/><circle cx="1110.98" cy="578.80" r="6"/><circle cx="1122.77" cy="576.00" r="6"/><circle cx="1134.56" cy="174.20" r="6"/><circle cx="1146.35" cy="133.50" r="6"/><circle cx="1158.14" cy="131.20" r="6"/><circle cx="1169.93" cy="127.00" r="6"/><circle cx="1181.72" cy="123.60" r="6"/><circle cx="1193.51" cy="123.70" r="6"/><circle cx="1205.30" cy="130.90" r="6"/><circle cx="1217.09" cy="131.80" r="6"/><circle cx="1228.88" cy="133.50" r="6"/><circle cx="1240.67" cy="109.10" r="6"/><circle cx="1252.46" cy="561.30" r="6"/><circle cx="1264.25" cy="577.70" r="6"/><circle cx="1276.04" cy="575.50" r="6"/><circle cx="1287.83" cy="573.10" r="6"/><circle cx="1299.62" cy="112.30" r="6"/><circle cx="1311.41" cy="128.60" r="6"/><circle cx="1323.20" cy="137.60" r="6"/><circle cx="1334.99" cy="135.50" r="6"/><circle cx="1346.78" cy="118.40" r="6"/><circle cx="1358.57" cy="114.10" r="6"/><circle cx="1370.36" cy="141.10" r="6"/><circle cx="1382.14" cy="128.10" r="6"/><circle cx="1393.93" cy="121.00" r="6"/><circle cx="1405.72" cy="120.60" r="6"/><circle cx="1417.51" cy="610.30" r="6"/><circle cx="1429.30" cy="578.10" r="6"/><circle cx="1441.09" cy="577.70" r="6"/><circle cx="1452.88" cy="530.00" r="6"/><circle cx="1464.67" cy="137.90" r="6"/><circle cx="1476.46" cy="111.40" r="6"/><circle cx="1488.25" cy="131.80" r="6"/><circle cx="1500.04" cy="148.70" r="6"/><circle cx="1511.83" cy="144.20" r="6"/><circle cx="1523.62" cy="149.10" r="6"/><circle cx="1535.41" cy="109.10" r="6"/><circle cx="1547.20" cy="114.30" r="6"/><circle cx="1558.99" cy="118.80" r="6"/><circle cx="1570.78" cy="157.10" r="6"/><circle cx="1582.57" cy="597.80" r="6"/><circle cx="1594.36" cy="573.10" r="6"/><circle cx="1606.15" cy="582.50" r="6"/><circle cx="1617.94" cy="507.70" r="6"/><circle cx="1629.73" cy="118.00" r="6"/><circle cx="1641.52" cy="123.20" r="6"/><circle cx="1653.31" cy="126.60" r="6"/><circle cx="1665.10" cy="160.60" r="6"/><circle cx="1676.89" cy="140.10" r="6"/><circle cx="1688.68" cy="180.50" r="6"/><circle cx="1700.47" cy="208.80" r="6"/><circle cx="1712.26" cy="244.00" r="6"/><circle cx="1724.05" cy="301.00" r="6"/><circle cx="1735.84" cy="407.70" r="6"/><circle cx="1747.63" cy="653.20" r="6"/><circle cx="1759.42" cy="658.40" r="6"/><circle cx="1771.21" cy="670.00" r="6"/><circle cx="1783.00" cy="692.40" r="6"/></g></svg>
<div class="xl" style="left:95.1px">20:3<span class="one">1</span>:00</div><div class="xl" style="left:213.2px">20:3<span class="one">1</span>:<span class="one">1</span>0</div><div class="xl" style="left:331.4px">20:3<span class="one">1</span>:20</div><div class="xl" style="left:449.2px">20:3<span class="one">1</span>:30</div><div class="xl" style="left:567.1px">20:3<span class="one">1</span>:40</div><div class="xl" style="left:685.0px">20:3<span class="one">1</span>:50</div><div class="xl" style="left:803.1px">20:32:00</div><div class="xl" style="left:921.3px">20:32:<span class="one">1</span>0</div><div class="xl" style="left:1039.0px">20:32:20</div><div class="xl" style="left:1157.0px">20:32:30</div><div class="xl" style="left:1275.1px">20:32:40</div><div class="xl" style="left:1393.1px">20:32:50</div><div class="xl" style="left:1511.0px">20:33:00</div><div class="xl" style="left:1629.0px">20:33:<span class="one">1</span>0</div><div class="yl" style="top:690.7px">0</div><div class="yl" style="top:578.7px">250</div><div class="yl" style="top:466.7px">500</div><div class="yl" style="top:356.7px">750</div><div class="yl" style="top:244.7px"><span class="one">1</span>000</div><div class="yl" style="top:132.7px"><span class="one">1</span>250</div><div class="yl" style="top:20.7px"><span class="one">1</span>500</div>
<div class="ax" id="xa" style="left:767.5px;top:774px;font-size:25px;line-height:28px;transform-origin:0 0"><span style="display:inline-block;width:15.16px;text-align:center">E</span><span style="display:inline-block;width:6.59px;text-align:center">l</span><span style="display:inline-block;width:14.41px;text-align:center">a</span><span style="display:inline-block;width:14.95px;text-align:center">p</span><span style="display:inline-block;width:12.49px;text-align:center">s</span><span style="display:inline-block;width:14.30px;text-align:center">e</span><span style="display:inline-block;width:14.95px;text-align:center">d</span><span style="display:inline-block;width:8.44px;text-align:center">&nbsp;</span><span style="display:inline-block;width:14.79px;text-align:center">T</span><span style="display:inline-block;width:6.59px;text-align:center">i</span><span style="display:inline-block;width:23.34px;text-align:center">m</span><span style="display:inline-block;width:14.30px;text-align:center">e</span><span style="display:inline-block;width:8.44px;text-align:center">&nbsp;</span><span style="display:inline-block;width:10.90px;text-align:center">(</span><span style="display:inline-block;width:14.95px;text-align:center">g</span><span style="display:inline-block;width:10.24px;text-align:center">r</span><span style="display:inline-block;width:14.41px;text-align:center">a</span><span style="display:inline-block;width:15.19px;text-align:center">n</span><span style="display:inline-block;width:15.19px;text-align:center">u</span><span style="display:inline-block;width:6.59px;text-align:center">l</span><span style="display:inline-block;width:14.41px;text-align:center">a</span><span style="display:inline-block;width:10.24px;text-align:center">r</span><span style="display:inline-block;width:6.59px;text-align:center">i</span><span style="display:inline-block;width:9.47px;text-align:center">t</span><span style="display:inline-block;width:14.20px;text-align:center">y</span><span style="display:inline-block;width:10.90px;text-align:center">:</span><span style="display:inline-block;width:8.44px;text-align:center">&nbsp;</span><span style="display:inline-block;width:15.26px;text-align:center">1</span><span style="display:inline-block;width:8.44px;text-align:center">&nbsp;</span><span style="display:inline-block;width:12.49px;text-align:center">s</span><span style="display:inline-block;width:14.30px;text-align:center">e</span><span style="display:inline-block;width:12.49px;text-align:center">c</span><span style="display:inline-block;width:10.90px;text-align:center">)</span></div>
<div class="ax" id="ya" style="left:25px;top:494.5px;font-size:25px;line-height:28px;transform-origin:0 0;transform:rotate(-90deg)"><span style="display:inline-block;width:17.96px;text-align:center">N</span><span style="display:inline-block;width:15.19px;text-align:center">u</span><span style="display:inline-block;width:23.34px;text-align:center">m</span><span style="display:inline-block;width:14.95px;text-align:center">b</span><span style="display:inline-block;width:14.30px;text-align:center">e</span><span style="display:inline-block;width:10.24px;text-align:center">r</span><span style="display:inline-block;width:8.44px;text-align:center">&nbsp;</span><span style="display:inline-block;width:14.58px;text-align:center">o</span><span style="display:inline-block;width:8.44px;text-align:center">f</span><span style="display:inline-block;width:8.44px;text-align:center">&nbsp;</span><span style="display:inline-block;width:15.19px;text-align:center">h</span><span style="display:inline-block;width:6.59px;text-align:center">i</span><span style="display:inline-block;width:9.47px;text-align:center">t</span><span style="display:inline-block;width:12.49px;text-align:center">s</span><span style="display:inline-block;width:8.44px;text-align:center">&nbsp;</span><span style="display:inline-block;width:10.90px;text-align:center">/</span><span style="display:inline-block;width:8.44px;text-align:center">&nbsp;</span><span style="display:inline-block;width:12.49px;text-align:center">s</span><span style="display:inline-block;width:14.30px;text-align:center">e</span><span style="display:inline-block;width:12.49px;text-align:center">c</span></div>
</body></html>
